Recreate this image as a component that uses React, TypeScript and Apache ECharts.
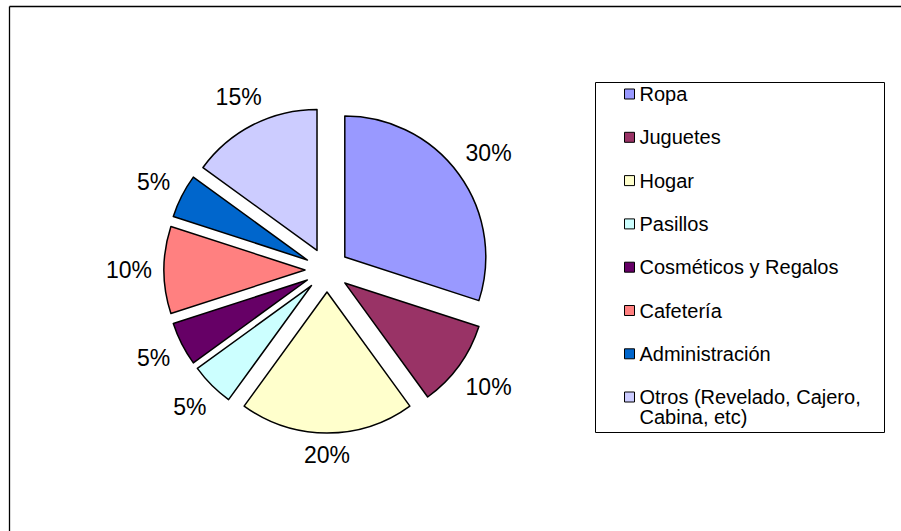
import React, { useEffect, useRef } from "react";
import * as echarts from "echarts";

const categories = [
  "Ropa",
  "Juguetes",
  "Hogar",
  "Pasillos",
  "Cosméticos y Regalos",
  "Cafetería",
  "Administración",
  "Otros (Revelado, Cajero, Cabina, etc)",
];
const values = [30, 10, 20, 5, 5, 10, 5, 15];
const colors = ["#9999FF", "#993366", "#FFFFCC", "#CCFFFF", "#660066", "#FF8080", "#0066CC", "#CCCCFF"];

const FONT = "'Liberation Sans', Arial, sans-serif";
const CX = 327;
const CY = 270;
const RADIUS = 141;
const OFFSET = 22;
const LABEL_GAP = 12;
const LABEL_FONT = 23;

export default function App() {
  const ref = useRef<HTMLDivElement>(null);
  useEffect(() => {
    if (!ref.current) return;
    const chart = echarts.init(ref.current, undefined, { renderer: "svg" });
    const total = values.reduce((a, b) => a + b, 0);
    const cum: number[] = [];
    values.reduce((acc, v, i) => {
      cum[i] = acc;
      return acc + v;
    }, 0);

    const legendText = (name: string) => {
      if (name === categories[7]) return "\nOtros (Revelado, Cajero,\nCabina, etc)";
      return name;
    };

    const legendCommon = {
      orient: "vertical" as const,
      left: 624,
      icon: "rect",
      itemWidth: 10,
      itemHeight: 10,
      padding: 0,
      selectedMode: false,
      itemStyle: { borderColor: "#000", borderWidth: 1 },
      textStyle: { fontFamily: FONT, fontSize: 20, color: "#000", lineHeight: 20 },
      formatter: legendText,
    };

    chart.setOption({
      animation: false,
      backgroundColor: "#fff",
      color: colors,
      graphic: [
        {
          type: "line",
          shape: { x1: 9.5, y1: 6.5, x2: 901, y2: 6.5 },
          style: { stroke: "#000", lineWidth: 1.3 },
          silent: true,
        },
        {
          type: "line",
          shape: { x1: 9.5, y1: 6.5, x2: 9.5, y2: 531 },
          style: { stroke: "#000", lineWidth: 1.3 },
          silent: true,
        },
        {
          type: "rect",
          shape: { x: 595.5, y: 82.5, width: 289, height: 350 },
          style: { fill: "#fff", stroke: "#000", lineWidth: 1 },
          silent: true,
          z: -1,
        },
      ],
      legend: [
        { ...legendCommon, top: 84, itemGap: 23.3, data: categories.slice(0, 7) },
        { ...legendCommon, top: 367, itemGap: 0, data: categories.slice(7) },
      ],
      series: [
        {
          type: "pie",
          center: [CX, CY],
          radius: RADIUS,
          startAngle: 90,
          clockwise: true,
          selectedMode: "multiple",
          selectedOffset: OFFSET,
          silent: true,
          emphasis: { disabled: true, scale: false },
          itemStyle: { borderColor: "#000", borderWidth: 1.5 },
          select: { itemStyle: { borderColor: "#000", borderWidth: 1.5 } },
          label: { show: false },
          labelLine: { show: false },
          data: categories.map((name, i) => ({ name, value: values[i], selected: true })),
        },
        {
          type: "pie",
          center: [CX, CY],
          radius: RADIUS,
          startAngle: 90,
          clockwise: true,
          selectedMode: false,
          silent: true,
          legendHoverLink: false,
          avoidLabelOverlap: false,
          emphasis: { disabled: true, scale: false },
          itemStyle: { color: "rgba(0,0,0,0)", borderWidth: 0 },
          label: {
            show: true,
            position: "outside",
            formatter: "{d}%",
            fontFamily: FONT,
            fontSize: LABEL_FONT,
            color: "#000",
          },
          labelLine: { show: false },
          labelLayout: (p: any) => {
            const i = p.dataIndex;
            const mid = ((cum[i] + values[i] / 2) / total) * 2 * Math.PI;
            const dx = Math.sin(mid);
            const dy = -Math.cos(mid);
            const hw = p.labelRect.width / 2;
            const hh = LABEL_FONT * 0.45;
            const D = RADIUS + OFFSET + LABEL_GAP + hw * Math.abs(dx) + hh * Math.abs(dy);
            return { x: CX + D * dx, y: CY + D * dy, align: "center", verticalAlign: "middle" };
          },
          data: categories.map((name, i) => ({ name, value: values[i] })),
        },
      ],
    });
    return () => chart.dispose();
  }, []);
  return (
    <div
      ref={ref}
      style={{ position: "absolute", left: 0, top: 0, width: 901, height: 531 }}
    />
  );
}
